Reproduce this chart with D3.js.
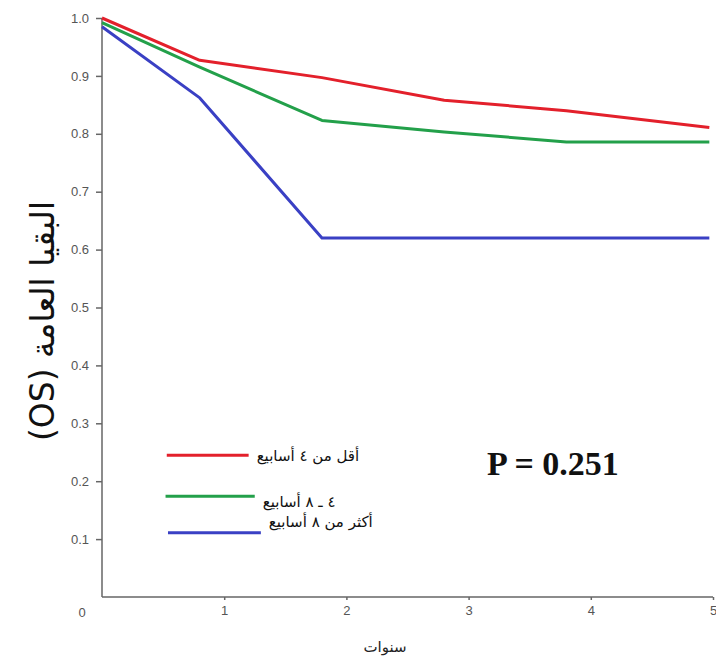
<!DOCTYPE html>
<html><head><meta charset="utf-8">
<script src="https://cdn.jsdelivr.net/npm/d3@7"></script>
<style>body{margin:0;background:#fff}</style>
</head><body><div id="chart"></div>
<script>
// data
const years = [0, 0.8, 1.8, 2.8, 3.8, 4.97];
const redVals = [1.0, 0.927, 0.897, 0.858, 0.84, 0.811];
const greenVals = [0.992, 0.915, 0.823, 0.803, 0.786, 0.786];
const blueVals = [0.985, 0.862, 0.62, 0.62, 0.62, 0.62];
const seriesNames = ["أقل من ٤ أسابيع", "٤ ـ ٨ أسابيع", "أكثر من ٨ أسابيع"];
const seriesColors = ["#e3202b", "#23a04a", "#3a40c4"];
const yTicks = [0.1,0.2,0.3,0.4,0.5,0.6,0.7,0.8,0.9,1.0];
const xTicks = [1,2,3,4,5];

const width = 716, height = 660;
const svg = d3.select("#chart").append("svg").attr("width", width).attr("height", height);

const x = d3.scaleLinear().domain([0,5]).range([102,713]);
const y = d3.scaleLinear().domain([0,1]).range([597,18]);

// axes
svg.append("g").attr("transform","translate(102,0)")
    .call(d3.axisLeft(y).tickValues(yTicks).tickSize(6).tickFormat(d3.format(".1f")))
    .call(g=>g.select(".domain").attr("d",`M0,${y(1)}V${y(0)}`))
    .call(g=>g.selectAll("line,path").attr("stroke","#666").attr("stroke-width",1.5))
    .call(g=>g.selectAll("text").attr("fill","#555").attr("font-size",13).attr("font-family","Liberation Sans, Arial").attr("x",-13));

svg.append("g").attr("transform","translate(0,597)")
    .call(d3.axisBottom(x).tickValues(xTicks).tickSize(3).tickFormat(d3.format("d")))
    .call(g=>g.select(".domain").attr("d",`M${x(0)},0H${x(5)}`))
    .call(g=>g.selectAll("line,path").attr("stroke","#666").attr("stroke-width",1.5))
    .call(g=>g.selectAll("text").attr("fill","#555").attr("font-size",13).attr("font-family","Liberation Sans, Arial").attr("y",9));

svg.append("text").attr("x",82).attr("y",617).attr("text-anchor","middle")
    .attr("fill","#555").attr("font-size",13).attr("font-family","Liberation Sans, Arial").text("0");

// lines
const line = d3.line().x((d,i)=>x(years[i])).y(d=>y(d));
[redVals, greenVals, blueVals].forEach((vals,i)=>{
    svg.append("path").datum(vals).attr("d",line)
        .attr("fill","none").attr("stroke",seriesColors[i]).attr("stroke-width",3).attr("stroke-linejoin","round");
});

// legend
const legendY = [0.245, 0.174, 0.111];
const legendX = [[0.53,1.2],[0.52,1.25],[0.54,1.3]];
const legendTextY = [461, 507, 527];
seriesNames.forEach((name,i)=>{
    svg.append("line").attr("x1",x(legendX[i][0])).attr("x2",x(legendX[i][1]))
        .attr("y1",y(legendY[i])).attr("y2",y(legendY[i]))
        .attr("stroke",seriesColors[i]).attr("stroke-width",3);
    svg.append("text").attr("x",x(legendX[i][1])+8).attr("y",legendTextY[i])
        .attr("direction","rtl").attr("text-anchor","end")
        .attr("font-size",15).attr("font-family","DejaVu Sans").attr("fill","#111").text(name);
});

svg.append("text").attr("x",487).attr("y",475).attr("font-family","Liberation Serif, Times New Roman")
    .attr("font-weight","bold").attr("font-size",34).attr("fill","#111").text("P = 0.251");

// axis titles
svg.append("text").attr("transform","translate(54,321) rotate(-90)").attr("text-anchor","middle")
    .attr("direction","rtl").attr("font-size",33).attr("font-family","DejaVu Sans").attr("fill","#111")
    .text("البقيا العامة (OS)");
svg.append("text").attr("x",385).attr("y",652).attr("text-anchor","middle")
    .attr("direction","rtl").attr("font-size",15).attr("font-family","DejaVu Sans").attr("fill","#222")
    .text("سنوات");
</script>
</body></html>
